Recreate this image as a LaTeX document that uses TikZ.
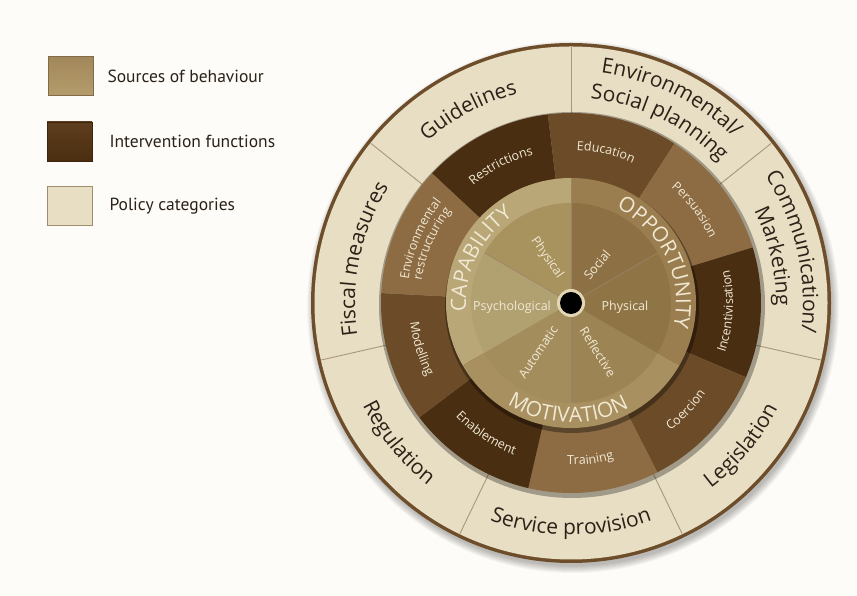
\documentclass[tikz,border=0pt]{standalone}
\usepackage{fontspec}
\setmainfont{Open Sans}
\newfontfamily\legendfont{PT Sans}
\usetikzlibrary{decorations.text, positioning}

\definecolor{paper}{HTML}{FDFCF8}
\definecolor{ink}{HTML}{2B2117}
\definecolor{cream}{HTML}{F1E9D4}
\definecolor{policy}{HTML}{E8DEC4}
\definecolor{policyline}{HTML}{A8987A}
\definecolor{policyedge}{HTML}{9E8E6E}
\definecolor{rim}{HTML}{6E4E2A}
\definecolor{ifdark}{HTML}{4A2E12}
\definecolor{ifmid}{HTML}{6C4C28}
\definecolor{iflight}{HTML}{8D6C44}
\definecolor{capband}{HTML}{B9A777}
\definecolor{oppband}{HTML}{9B7E4F}
\definecolor{motband}{HTML}{A89060}
\definecolor{capphys}{HTML}{A8935F}
\definecolor{psych}{HTML}{B1A070}
\definecolor{autom}{HTML}{A48D5D}
\definecolor{reflect}{HTML}{9C8454}
\definecolor{oppphys}{HTML}{8F7446}
\definecolor{social}{HTML}{8D7144}
\definecolor{hubrim}{HTML}{E2D6B4}
\definecolor{srctop}{HTML}{A2875A}
\definecolor{srcbot}{HTML}{B49C6C}
\definecolor{iftop}{HTML}{5E3E1E}
\definecolor{ifbot}{HTML}{4A2E10}

% text bent along an arc: radius, start, end, format, text
\newcommand\arclabel[5]{%
  \path[decorate, decoration={text along path, text align=center,
    text={|#4|#5}}] (#2:#1) arc[start angle=#2, end angle=#3, radius=#1];}
\newcommand\policyfont{\fontsize{21}{21}\selectfont\color{ink}}
\newcommand\funcfont{\fontsize{12.5}{12.5}\selectfont\color{cream}}
\newcommand\bandfont{\fontsize{21}{21}\selectfont\color{cream}}

\begin{document}
\begin{tikzpicture}[x=1pt, y=1pt,
    legbox/.style={line width=0.6pt, minimum width=45pt, minimum height=39pt,
      inner sep=0pt},
    legtext/.style={font=\legendfont\fontsize{17.5}{17.5}\selectfont, text=ink,
      inner sep=0pt},
    srclab/.style={font=\fontsize{12.5}{12.5}\selectfont, text=cream, inner sep=0pt},
    divider/.style={draw=rim!70, line width=0.6pt}
  ]
  \fill[paper] (0,0) rectangle (857,596);
  \useasboundingbox (0,0) rectangle (857,596);

  % legend
  \node[legbox, top color=srctop, bottom color=srcbot, draw=srctop!80!black]
    (srcbox) at (70.5,520) {};
  \node[legtext, right=14pt of srcbox] (srctext) {Sources of behaviour};
  \node[legbox, top color=iftop, bottom color=ifbot, draw=ifbot!80!black]
    (ifbox) at (69.5,454.5) {};
  \node[legtext, right=17pt of ifbox] (iftext) {Intervention functions};
  \node[legbox, fill=policy, draw=policyedge] (polbox) at (69.5,390) {};
  \node[legtext, right=17pt of polbox] (poltext) {Policy categories};

  % wheel
  \begin{scope}[shift={(571,293)}]
    \coordinate (hub) at (0,0);
    \foreach \s in {0,...,7}
      \fill[black, opacity=0.035] (2,-4) circle ({259+\s});
    \fill[rim] (hub) circle (260);
    \fill[policy] (hub) circle (256.5);
    \foreach \k in {0,...,6}
      \draw[policyline, line width=0.9pt] ({90-\k*360/7}:190) -- ({90-\k*360/7}:256);

    % intervention functions
    \fill[black, opacity=0.3] (1,-2) circle (193);
    \foreach \k/\c in {0/ifdark,1/ifmid,2/iflight,3/ifdark,4/ifmid,5/iflight,
        6/ifdark,7/ifmid,8/iflight}
      \fill[\c] (hub) -- ({137-40*\k}:190)
        arc[start angle={137-40*\k}, end angle={97-40*\k}, radius=190] -- cycle;

    % sources of behaviour
    \fill[black, opacity=0.35] (1,-3) circle (127);
    \fill[capband] (hub) -- (90:125) arc[start angle=90, end angle=210, radius=125] -- cycle;
    \fill[oppband] (hub) -- (90:125) arc[start angle=90, end angle=-30, radius=125] -- cycle;
    \fill[motband] (hub) -- (-30:125) arc[start angle=-30, end angle=-150, radius=125] -- cycle;
    \foreach \a/\c in {30/social,90/capphys,150/psych,210/autom,270/reflect,330/oppphys}
      \fill[\c] (hub) -- (\a:100) arc[start angle=\a, end angle=\a+60, radius=100] -- cycle;
    \draw[divider] (hub) -- (90:125);
    \foreach \a in {30,150,270}
      \draw[divider] (hub) -- (\a:100);
    \fill[hubrim] (hub) circle (14);
    \fill[black] (hub) circle (11);

    % policy categories
    \arclabel{216}{150}{86}{\policyfont}{Guidelines}
    \arclabel{232}{98}{30}{\policyfont}{Environmental/}
    \arclabel{205}{98}{30}{\policyfont}{Social planning}
    \arclabel{232}{47}{-21}{\policyfont}{Communication/}
    \arclabel{205}{47}{-21}{\policyfont}{Marketing}
    \arclabel{232}{-74}{-6}{\policyfont}{Legislation}
    \arclabel{232}{-127}{-53}{\policyfont}{Service provision}
    \arclabel{232}{-175}{-107}{\policyfont}{Regulation}
    \arclabel{216}{204}{132}{\policyfont}{Fiscal measures}

    % intervention functions
    \arclabel{153}{137}{97}{\funcfont}{Restrictions}
    \arclabel{153}{97}{57}{\funcfont}{Education}
    \arclabel{153}{57}{17}{\funcfont}{Persuasion}
    \arclabel{162}{-25}{19}{\funcfont}{Incentivisation}
    \arclabel{162}{-63}{-23}{\funcfont}{Coercion}
    \arclabel{162}{-103}{-63}{\funcfont}{Training}
    \arclabel{162}{-143}{-103}{\funcfont}{Enablement}
    \arclabel{162}{177}{217}{\funcfont}{Modelling}
    \arclabel{164}{177}{137}{\funcfont}{Environmental}
    \arclabel{151}{177}{137}{\funcfont}{restructuring}

    % components
    \arclabel{105}{200}{108}{\bandfont}{CAPABILITY}
    \arclabel{105}{76}{-25}{\bandfont}{OPPORTUNITY}
    \arclabel{119.5}{-142}{-41}{\bandfont}{MOTIVATION}
    \node[srclab, rotate=-55] (capphyslab) at (-24,45) {Physical};
    \node[srclab, rotate=50] (sociallab) at (26,38) {Social};
    \node[srclab] (psychlab) at (-59,-4) {Psychological};
    \node[srclab] (oppphyslab) at (54,-4) {Physical};
    \node[srclab, rotate=56] (automlab) at (-33,-49) {Automatic};
    \node[srclab, rotate=-58] (reflectlab) at (27,-49) {Reflective};
  \end{scope}
\end{tikzpicture}
\end{document}
